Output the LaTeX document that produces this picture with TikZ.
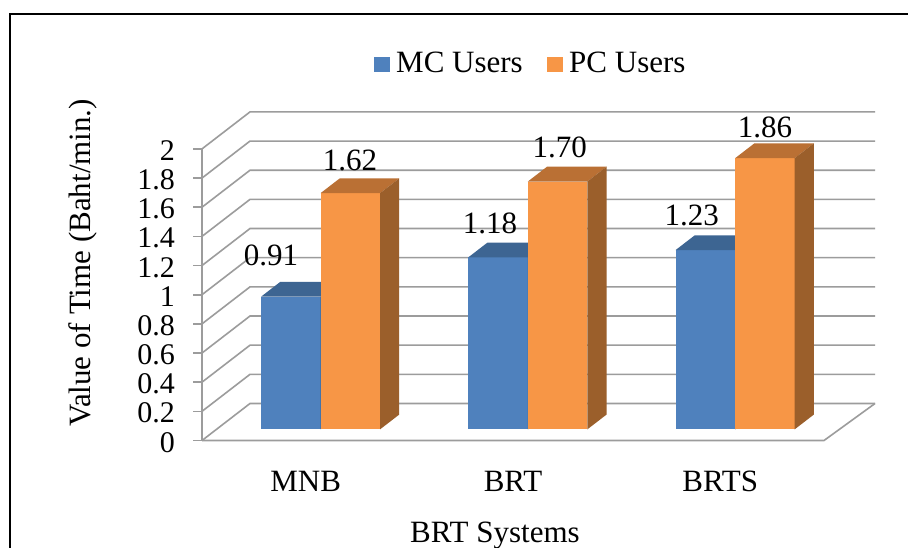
\documentclass[tikz,border=0pt]{standalone}
\usepackage{fontspec}
\setmainfont{Liberation Serif}
\definecolor{mcfront}{HTML}{4F81BD}
\definecolor{mctop}{HTML}{3D6592}
\definecolor{mcside}{HTML}{355A85}
\definecolor{pcfront}{HTML}{F79646}
\definecolor{pctop}{HTML}{BA7034}
\definecolor{pcside}{HTML}{9B5F2B}
\definecolor{gridgray}{HTML}{9C9C9C}
\tikzset{
  gridline/.style={draw=gridgray, line width=1.6pt},
  frameline/.style={draw=black, line width=2pt},
  txt/.style={inner sep=0pt, font=\fontsize{31}{37}\selectfont},
  ticktxt/.style={inner sep=0pt, anchor=base east, font=\fontsize{30}{36}\selectfont},
}
\newcommand{\drawbar}[5]{% left x, value, front, top, side
  \pgfmathsetmacro{\bL}{#1}
  \pgfmathsetmacro{\bR}{#1+59.5}
  \pgfmathsetmacro{\bB}{429.4}
  \pgfmathsetmacro{\bT}{429.4-145.8*#2}
  \fill[#3] (\bL,\bB) rectangle (\bR,\bT);
  \fill[#4] (\bL,\bT) -- (\bR,\bT) -- (\bR+19.2,\bT-14.8) -- (\bL+19.2,\bT-14.8) -- cycle;
  \fill[#5] (\bR,\bB) -- (\bR+19.2,\bB-14.8) -- (\bR+19.2,\bT-14.8) -- (\bR,\bT) -- cycle;
}
\begin{document}
\begin{tikzpicture}[x=1pt,y=-1pt]
\useasboundingbox (0,0) rectangle (908,548);
\fill[white] (0,0) rectangle (908,548);
% frame
\draw[frameline] (10,548) -- (10,14) -- (908,14);
% grid: side wall and back wall
\foreach \k in {0,...,10}{
  \pgfmathsetmacro{\yf}{440.5-29.16*\k}
  \pgfmathsetmacro{\yb}{\yf-37}
  \draw[gridline] (202,\yf) -- (250,\yb) -- (875,\yb);
  \draw[gridline] (193,\yf) -- (202,\yf);
}
\draw[gridline] (202,440.5) -- (202,148.9);
\draw[gridline] (202,440.5) -- (824,440.5) -- (875,403.5);
% bars
\drawbar{261.0}{0.91}{mcfront}{mctop}{mcside}
\drawbar{320.5}{1.62}{pcfront}{pctop}{pcside}
\drawbar{468.3}{1.18}{mcfront}{mctop}{mcside}
\drawbar{527.8}{1.70}{pcfront}{pctop}{pcside}
\drawbar{675.6}{1.23}{mcfront}{mctop}{mcside}
\drawbar{735.1}{1.86}{pcfront}{pctop}{pcside}
% value labels
\node[txt] (v1) at (271,255) {0.91};
\node[txt] (v2) at (350,160) {1.62};
\node[txt] (v3) at (490,223) {1.18};
\node[txt] (v4) at (559.7,147.5) {1.70};
\node[txt] (v5) at (691.7,215) {1.23};
\node[txt] (v6) at (765,127.5) {1.86};
% tick labels
\foreach \k/\lab in {0/0,1/0.2,2/0.4,3/0.6,4/0.8,5/1,6/1.2,7/1.4,8/1.6,9/1.8,10/2}{
  \pgfmathsetmacro{\yl}{440.5-29.16*\k+11.5}
  \node[ticktxt] (t\k) at (175,\yl) {\lab};
}
% category labels
\node[txt] (c1) at (305.7,481) {MNB};
\node[txt] (c2) at (513,481) {BRT};
\node[txt] (c3) at (720.3,481) {BRTS};
\node[txt] (xl) at (495,536) {BRT Systems};
\node[txt, rotate=90] (yl) at (83,263) {Value of Time (Baht/min.)};
% legend
\fill[mcfront] (374,57) rectangle (390,72);
\node[txt, anchor=base west] (l1) at (396,73) {MC Users};
\fill[pcfront] (547,57) rectangle (563,72);
\node[txt, anchor=base west] (l2) at (569,73) {PC Users};
\end{tikzpicture}
\end{document}
